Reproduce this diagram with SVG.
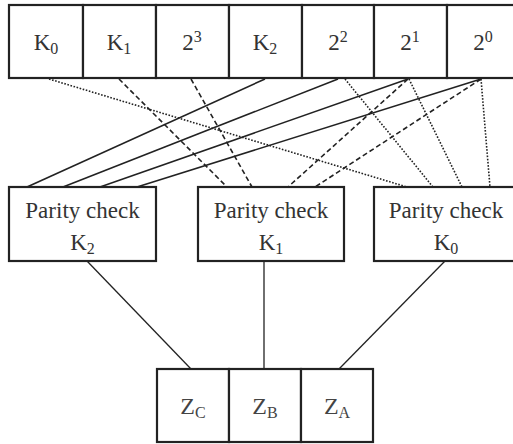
<svg xmlns="http://www.w3.org/2000/svg" width="513" height="444" viewBox="0 0 513 444">
  <style>
    .box { fill: #ffffff; stroke: #222222; stroke-width: 2.2; }
    .lbl { font-family: "Liberation Serif", "Times New Roman", serif; font-size: 23px; fill: #333333; text-anchor: middle; }
    .zl { font-family: "Liberation Serif", "Times New Roman", serif; font-size: 24px; fill: #444444; text-anchor: middle; }
    .sm { font-size: 16px; }
    .solid { stroke: #222222; stroke-width: 1.6; fill: none; }
    .dash { stroke: #222222; stroke-width: 1.6; fill: none; stroke-dasharray: 5 3; }
    .dot { stroke: #222222; stroke-width: 1.6; fill: none; stroke-dasharray: 1.6 1.6; }
    .link { stroke: #222222; stroke-width: 1.3; fill: none; }
  </style>

  <!-- connectors -->
  <g id="connectors">
    <!-- inputs to parity check K2 -->
    <line class="solid" x1="265" y1="79" x2="27" y2="187"/>
    <line class="solid" x1="338" y1="79" x2="63" y2="187"/>
    <line class="solid" x1="408" y1="79" x2="100" y2="187"/>
    <line class="solid" x1="481" y1="79" x2="137" y2="187"/>
    <!-- inputs to parity check K1 -->
    <line class="dash" x1="119" y1="79" x2="227" y2="187"/>
    <line class="dash" x1="191" y1="79" x2="252" y2="187"/>
    <line class="dash" x1="408" y1="79" x2="288" y2="187"/>
    <line class="dash" x1="481" y1="79" x2="315" y2="187"/>
    <!-- inputs to parity check K0 -->
    <line class="dot" x1="49" y1="79" x2="407" y2="187"/>
    <line class="dot" x1="345" y1="79" x2="433" y2="187"/>
    <line class="dot" x1="409" y1="79" x2="462" y2="187"/>
    <line class="dot" x1="481" y1="79" x2="490" y2="187"/>
    <!-- parity outputs to result bits -->
    <line class="link" x1="87" y1="261" x2="191" y2="369"/>
    <line class="link" x1="264" y1="261" x2="264" y2="369"/>
    <line class="link" x1="445" y1="261" x2="339" y2="369"/>
  </g>

  <!-- code word register -->
  <g id="codeword">
    <g id="cell-k0">
      <rect class="box" x="9" y="5" width="74" height="73"/>
      <text class="lbl" x="46" y="50">K<tspan class="sm" dy="4">0</tspan></text>
    </g>
    <g id="cell-k1">
      <rect class="box" x="83" y="5" width="73" height="73"/>
      <text class="lbl" x="119" y="50">K<tspan class="sm" dy="4">1</tspan></text>
    </g>
    <g id="cell-2p3">
      <rect class="box" x="156" y="5" width="73" height="73"/>
      <text class="lbl" x="192" y="50">2<tspan class="sm" dy="-8">3</tspan></text>
    </g>
    <g id="cell-k2">
      <rect class="box" x="229" y="5" width="73" height="73"/>
      <text class="lbl" x="265" y="50">K<tspan class="sm" dy="4">2</tspan></text>
    </g>
    <g id="cell-2p2">
      <rect class="box" x="302" y="5" width="72" height="73"/>
      <text class="lbl" x="338" y="50">2<tspan class="sm" dy="-8">2</tspan></text>
    </g>
    <g id="cell-2p1">
      <rect class="box" x="374" y="5" width="73" height="73"/>
      <text class="lbl" x="410" y="50">2<tspan class="sm" dy="-8">1</tspan></text>
    </g>
    <g id="cell-2p0">
      <rect class="box" x="447" y="5" width="73" height="73"/>
      <text class="lbl" x="483" y="50">2<tspan class="sm" dy="-8">0</tspan></text>
    </g>
  </g>

  <!-- parity checkers -->
  <g id="parity-k2">
    <rect class="box" x="9" y="187" width="147" height="74"/>
    <text class="lbl" x="82.5" y="218">Parity check</text>
    <text class="lbl" x="82.5" y="250">K<tspan class="sm" dy="4">2</tspan></text>
  </g>
  <g id="parity-k1">
    <rect class="box" x="198" y="187" width="146" height="74"/>
    <text class="lbl" x="271" y="218">Parity check</text>
    <text class="lbl" x="271" y="250">K<tspan class="sm" dy="4">1</tspan></text>
  </g>
  <g id="parity-k0">
    <rect class="box" x="374" y="187" width="146" height="74"/>
    <text class="lbl" x="446" y="218">Parity check</text>
    <text class="lbl" x="446" y="250">K<tspan class="sm" dy="4">0</tspan></text>
  </g>

  <!-- syndrome result -->
  <g id="syndrome">
    <g id="cell-zc">
      <rect class="box" x="157" y="369" width="72" height="73"/>
      <text class="zl" x="193" y="414">Z<tspan class="sm" dy="4">C</tspan></text>
    </g>
    <g id="cell-zb">
      <rect class="box" x="229" y="369" width="72" height="73"/>
      <text class="zl" x="265" y="414">Z<tspan class="sm" dy="4">B</tspan></text>
    </g>
    <g id="cell-za">
      <rect class="box" x="301" y="369" width="72" height="73"/>
      <text class="zl" x="337" y="414">Z<tspan class="sm" dy="4">A</tspan></text>
    </g>
  </g>
</svg>
